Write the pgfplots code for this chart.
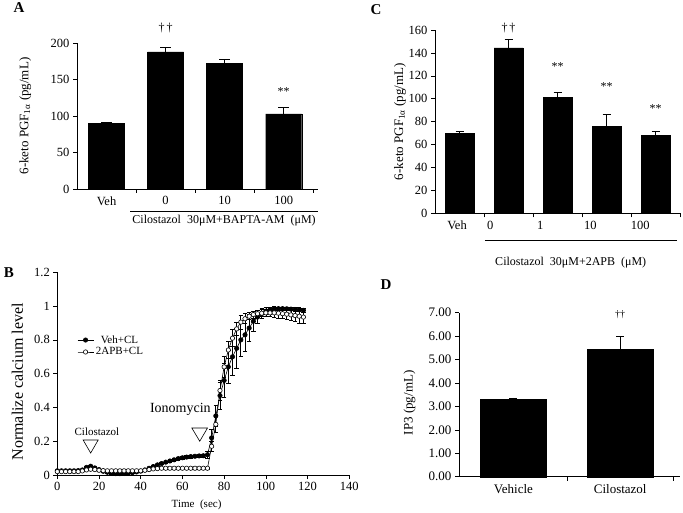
\documentclass[border=0pt]{standalone}
\usepackage{fontspec}
\setmainfont{Liberation Serif}
\usepackage{pgfplots}
\usepackage{pgfplotstable}
\pgfplotsset{compat=1.18}

% panel A: BAPTA-AM
\pgfplotstableread{
x y e
0 90 1.5
1 188 5.5
2 172 5
3 103 8.5
}\dataA
% panel C: 2APB
\pgfplotstableread{
x y e
0 69.8 1.5
1 144.5 7
2 101.2 4
3 76 10
4 68 3.2
}\dataC
% panel D: IP3
\pgfplotstableread{
x y e
0 3.30 0.06
1 5.45 0.52
}\dataD
% panel B: calcium traces
\pgfplotstableread{
t v e
0 0.025 0.004
2 0.025 0.004
4 0.025 0.004
6 0.025 0.004
8 0.025 0.004
10 0.026 0.004
12 0.03 0.005
14 0.045 0.006
16 0.052 0.006
18 0.042 0.005
20 0.032 0.005
22 0.022 0.005
24 0.016 0.005
26 0.011 0.005
28 0.008 0.005
30 0.008 0.005
32 0.009 0.005
34 0.011 0.005
36 0.014 0.005
38 0.018 0.005
40 0.023 0.005
42 0.03 0.005
44 0.04 0.006
46 0.05 0.006
48 0.06 0.006
50 0.068 0.007
52 0.076 0.007
54 0.083 0.007
56 0.09 0.008
58 0.097 0.008
60 0.102 0.008
62 0.106 0.008
64 0.109 0.008
66 0.111 0.008
68 0.113 0.008
70 0.114 0.01
72 0.12 0.02
74 0.22 0.05
76 0.35 0.06
78 0.47 0.08
80 0.56 0.1
82 0.64 0.1
84 0.7 0.11
86 0.75 0.12
88 0.8 0.1
90 0.83 0.1
92 0.87 0.08
94 0.91 0.06
96 0.935 0.04
98 0.955 0.03
100 0.97 0.02
102 0.98 0.015
104 0.985 0.012
106 0.985 0.01
108 0.985 0.01
110 0.984 0.01
112 0.982 0.01
114 0.98 0.01
116 0.978 0.012
118 0.975 0.012
}\vehcl
\pgfplotstableread{
t v e
0 0.02 0.003
2 0.02 0.003
4 0.02 0.003
6 0.02 0.003
8 0.02 0.003
10 0.02 0.003
12 0.024 0.003
14 0.03 0.004
16 0.034 0.004
18 0.032 0.004
20 0.028 0.004
22 0.026 0.004
24 0.025 0.004
26 0.025 0.004
28 0.025 0.004
30 0.025 0.004
32 0.025 0.004
34 0.025 0.004
36 0.025 0.004
38 0.025 0.004
40 0.025 0.004
42 0.028 0.004
44 0.032 0.004
46 0.036 0.004
48 0.038 0.004
50 0.04 0.004
52 0.04 0.004
54 0.04 0.004
56 0.04 0.004
58 0.04 0.004
60 0.04 0.004
62 0.04 0.004
64 0.04 0.004
66 0.04 0.004
68 0.04 0.004
70 0.04 0.004
72 0.04 0.005
74 0.17 0.03
76 0.3 0.05
78 0.5 0.06
80 0.64 0.06
82 0.74 0.05
84 0.81 0.05
86 0.865 0.04
88 0.905 0.04
90 0.925 0.03
92 0.94 0.02
94 0.95 0.02
96 0.955 0.02
98 0.958 0.02
100 0.96 0.02
102 0.96 0.02
104 0.96 0.025
106 0.958 0.03
108 0.955 0.03
110 0.952 0.03
112 0.948 0.035
114 0.944 0.035
116 0.94 0.04
118 0.935 0.04
}\apbcl

\pgfplotsset{
  panel/.style={scale only axis, axis lines=left, axis line style={-,line width=0.6pt},
    tick align=outside, clip=false, /pgf/number format/assume math mode=true,
    tick label style={font=\fontsize{12.5}{14}\selectfont},
    major tick length=4pt, minor tick length=4pt, tick style={black,line width=0.6pt}},
  barpanel/.style={panel, ymin=0, major x tick style={draw=none}},
  blackbar/.style={ybar, fill=black, draw=black,
    error bars/.cd, y dir=plus, y explicit,
    error bar style={line width=0.8pt, black},
    error mark options={rotate=90, mark size=#1, line width=0.8pt, black}, /pgfplots/.cd},
}

\begin{document}
\begin{tikzpicture}[x=1pt,y=1pt]
\useasboundingbox (0,0) rectangle (683,512);

\node[font=\bfseries\fontsize{15}{17}\selectfont] at (19,504) {A};
\node[font=\bfseries\fontsize{15}{17}\selectfont] at (376,502) {C};
\node[font=\bfseries\fontsize{15}{17}\selectfont] at (9,239) {B};
\node[font=\bfseries\fontsize{15}{17}\selectfont] at (386,227) {D};

% ---- A
\begin{axis}[barpanel, at={(77pt,323pt)}, anchor=south west, width=241pt, height=146pt,
  xmin=-0.5, xmax=3.58, ymax=200, ytick={0,50,...,200},
  xtick={0,1,2,3}, xticklabels={Veh,0,10,100}, minor xtick={0.5,1.5,2.5,3.5},
  ylabel={6-keto PGF\textsubscript{1α} (pg/mL)},
  ylabel style={font=\fontsize{13}{15}\selectfont, at={(axis description cs:-0.215,0.5)}, anchor=center}]
\addplot[bar width=36pt, blackbar=5.5pt] table[x=x,y=y,y error=e] {\dataA};
\node[font=\fontsize{12}{14}\selectfont] at (axis cs:1,220) {†\,†};
\node[font=\fontsize{12}{14}\selectfont] at (axis cs:3,134) {**};
\draw[line width=0.8pt] ([yshift=-22.7pt]axis cs:0.4,0) -- ([yshift=-22.7pt]axis cs:3.585,0);
\node[font=\fontsize{12}{14}\selectfont] at ([yshift=-32pt]axis cs:1.99,0) {Cilostazol\ \ 30μM+BAPTA-AM\ \ (μM)};
\end{axis}

% ---- C
\begin{axis}[barpanel, at={(435pt,298.7pt)}, anchor=south west, width=245pt, height=183.3pt,
  xmin=-0.5, xmax=4.5, ymax=160, ytick={0,20,...,160},
  xtick={-0.05,0.63,1.65,2.67,3.69}, xticklabels={Veh,0,1,10,100},
  minor xtick={0.5,1.5,2.5,3.5,4.5},
  ylabel={6-keto PGF\textsubscript{1α} (pg/mL)},
  ylabel style={font=\fontsize{13}{15}\selectfont, at={(axis description cs:-0.143,0.5)}, anchor=center}]
\addplot[bar width=29pt, blackbar=4pt] table[x=x,y=y,y error=e] {\dataC};
\node[font=\fontsize{12}{14}\selectfont] at (axis cs:1,162) {†\,†};
\node[font=\fontsize{12}{14}\selectfont] at (axis cs:2,128) {**};
\node[font=\fontsize{12}{14}\selectfont] at (axis cs:3,111) {**};
\node[font=\fontsize{12}{14}\selectfont] at (axis cs:4,91) {**};
\draw[line width=0.8pt] ([yshift=-26.7pt]axis cs:0.52,0) -- ([yshift=-26.7pt]axis cs:4.43,0);
\node[font=\fontsize{12}{14}\selectfont] at ([yshift=-49.4pt]axis cs:2.27,0) {Cilostazol\ \ 30μM+2APB\ \ (μM)};
\end{axis}

% ---- B
\begin{axis}[panel, at={(57.3pt,37pt)}, anchor=south west, width=292pt, height=202.7pt,
  xmin=0, xmax=140, ymin=0, ymax=1.2, xtick={0,20,...,140}, ytick={0,0.2,...,1.2},
  xlabel={Time\ \ (sec)}, ylabel={Normalize calcium level},
  xlabel style={font=\fontsize{11}{13}\selectfont, at={(axis description cs:0.477,-0.148)}, anchor=center},
  ylabel style={font=\fontsize{16}{18}\selectfont, at={(axis description cs:-0.137,0.46)}, anchor=center},
  legend style={at={(axis cs:9,0.845)}, anchor=north west, draw=none, fill=none,
    font=\fontsize{11}{12}\selectfont, row sep=-1pt, inner sep=1pt},
  legend image code/.code={\draw[mark repeat=2,mark phase=2] plot coordinates {(0pt,0pt) (8pt,0pt) (16pt,0pt)};}]
\addplot[black, line width=0.6pt, mark=*, mark size=2.2pt, mark options={fill=black},
  error bars/.cd, y dir=both, y explicit, error bar style={line width=0.7pt},
  error mark options={rotate=90, mark size=2.2pt, line width=0.7pt}] table[x=t,y=v,y error=e] {\vehcl};
\addlegendentry{Veh+CL}
\addplot[black, line width=0.6pt, mark=*, mark size=2.2pt, mark options={fill=white},
  error bars/.cd, y dir=both, y explicit, error bar style={line width=0.7pt},
  error mark options={rotate=90, mark size=2.2pt, line width=0.7pt}] table[x=t,y=v,y error=e] {\apbcl};
\addlegendentry{2APB+CL}
\draw[line width=0.6pt] (axis cs:12.4,0.207) -- (axis cs:19.6,0.207) -- (axis cs:16,0.13) -- cycle;
\draw[line width=0.6pt] (axis cs:64.5,0.278) -- (axis cs:72,0.278) -- (axis cs:68.3,0.2) -- cycle;
\node[font=\fontsize{11}{13}\selectfont] at (axis cs:19,0.255) {Cilostazol};
\node[font=\fontsize{14}{16}\selectfont] at (axis cs:59,0.39) {Ionomycin};
\end{axis}

% ---- D
\begin{axis}[barpanel, at={(459pt,35.3pt)}, anchor=south west, width=221pt, height=164pt,
  xmin=-0.51, xmax=1.56, ymax=7, ytick={0,1,...,7},
  yticklabel style={/pgf/number format/.cd, fixed, fixed zerofill, precision=2},
  tick label style={font=\fontsize{13}{15}\selectfont},
  xtick={0,1}, xticklabels={Vehicle,Cilostazol}, minor xtick={0.5,1.5},
  ylabel={IP3 (pg/mL)},
  ylabel style={font=\fontsize{13}{15}\selectfont, at={(axis description cs:-0.224,0.45)}, anchor=center}]
\addplot[bar width=66pt, blackbar=4pt] table[x=x,y=y,y error=e] {\dataD};
\node[font=\fontsize{10}{12}\selectfont] at (axis cs:1,6.9) {††};
\end{axis}
\end{tikzpicture}
\end{document}
